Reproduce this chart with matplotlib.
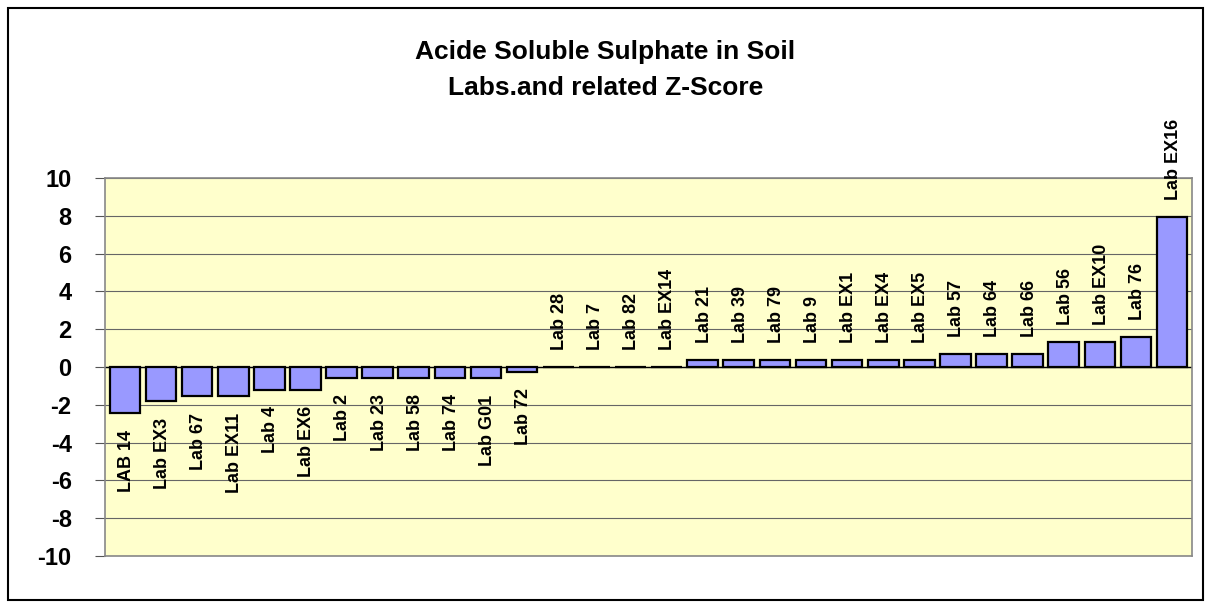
import matplotlib.pyplot as plt
from matplotlib.patches import Rectangle

# lab names and z-scores
labs = ["LAB 14", "Lab EX3", "Lab 67", "Lab EX11", "Lab 4", "Lab EX6",
        "Lab 2", "Lab 23", "Lab 58", "Lab 74", "Lab G01", "Lab 72",
        "Lab 28", "Lab 7", "Lab 82", "Lab EX14",
        "Lab 21", "Lab 39", "Lab 79", "Lab 9", "Lab EX1", "Lab EX4", "Lab EX5",
        "Lab 57", "Lab 64", "Lab 66", "Lab 56", "Lab EX10", "Lab 76", "Lab EX16"]
zscore = [-2.45, -1.8, -1.53, -1.53, -1.2, -1.2,
          -0.57, -0.57, -0.57, -0.57, -0.57, -0.25,
          0.02, 0.02, 0.02, 0.02,
          0.37, 0.37, 0.37, 0.37, 0.37, 0.37, 0.37,
          0.7, 0.7, 0.7, 1.34, 1.34, 1.6, 7.95]
yticks = [-10, -8, -6, -4, -2, 0, 2, 4, 6, 8, 10]

plt.rcParams["font.family"] = ["Liberation Sans", "DejaVu Sans"]
plt.rcParams["font.weight"] = "bold"

fig = plt.figure(figsize=(12.11, 6.08), dpi=100)
# chart border
fig.patches.append(Rectangle((0.007, 0.013), 0.986, 0.974, transform=fig.transFigure,
                             fill=False, edgecolor="black", linewidth=1.5))

ax = fig.add_axes([0.0867, 0.0855, 0.8976, 0.6217])
ax.set_facecolor("#FFFFCC")

x = list(range(len(labs)))
ax.bar(x, zscore, width=0.85, color="#9999FF", edgecolor="black", linewidth=1.6, zorder=3)

# data labels: above positive bars, below negative bars
for xi, v, name in zip(x, zscore, labs):
    if v >= 0:
        ax.annotate(name, (xi, v), xytext=(1, 12), textcoords="offset points",
                    rotation=90, ha="center", va="bottom", fontsize=13,
                    fontweight="bold", annotation_clip=False, zorder=4)
    else:
        ax.annotate(name, (xi, v), xytext=(1, -12), textcoords="offset points",
                    rotation=90, ha="center", va="top", fontsize=13,
                    fontweight="bold", annotation_clip=False, zorder=4)

ax.set_xlim(-0.55, len(labs) - 0.45)
ax.set_ylim(-10, 10)
ax.set_yticks(yticks)
ax.set_yticklabels([str(t) for t in yticks], fontsize=17, fontweight="bold")
ax.tick_params(axis="y", direction="out", length=7, width=0.8, color="#555555", pad=17)
ax.set_xticks([])
ax.grid(axis="y", color="#666666", linewidth=0.8, zorder=0)
ax.axhline(0, color="black", linewidth=1.0, zorder=2)
for s in ax.spines.values():
    s.set_color("#888888")
    s.set_linewidth(1.2)

fig.text(0.5, 0.885, "Acide Soluble Sulphate in Soil\nLabs.and related Z-Score",
         ha="center", va="center", fontsize=19, fontweight="bold", linespacing=1.6)

plt.savefig("out.png", dpi=100)
